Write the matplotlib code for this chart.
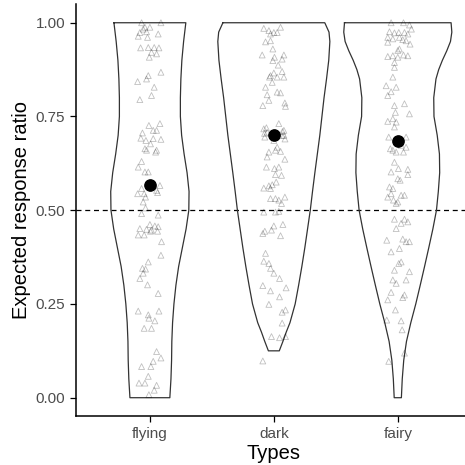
import matplotlib.pyplot as plt

plt.rcParams['font.family'] = ['Liberation Sans', 'DejaVu Sans']

types = ["flying", "dark", "fairy"]
means = [0.568, 0.701, 0.685]

# jittered observations: ratio value and horizontal jitter (category units)
flying_y = [1.0, 1.0, 0.988, 0.988, 0.974, 0.976, 0.970, 0.964, 0.961, 0.983,
            0.933, 0.934, 0.934, 0.933, 0.921, 0.917, 0.908, 0.868, 0.859, 0.850,
            0.843, 0.828, 0.806, 0.795, 0.726, 0.731, 0.713, 0.713, 0.706, 0.692,
            0.686, 0.691, 0.689, 0.677, 0.664, 0.660, 0.660, 0.655, 0.630, 0.615,
            0.602, 0.602, 0.566, 0.558, 0.553, 0.547, 0.544, 0.544, 0.535, 0.522,
            0.506, 0.491, 0.487, 0.462, 0.458, 0.456, 0.451, 0.449, 0.447, 0.434,
            0.434, 0.444, 0.444, 0.416, 0.380, 0.362, 0.345, 0.343, 0.332, 0.318,
            0.301, 0.278, 0.231, 0.231, 0.221, 0.212, 0.205, 0.185, 0.185, 0.123,
            0.106, 0.097, 0.083, 0.083, 0.057, 0.039, 0.039, 0.033, 0.008, 0.020]
flying_jit = [-0.067, 0.089, -0.040, 0.000, -0.081, -0.027, 0.067, -0.094, -0.019, -0.054,
              -0.075, -0.013, 0.035, 0.073, 0.013, 0.054, -0.005, 0.089, -0.013, -0.027,
              -0.099, 0.035, 0.013, -0.081, -0.008, 0.081, 0.027, 0.054, -0.060, -0.073,
              -0.032, 0.027, 0.089, 0.005, -0.040, -0.027, 0.054, 0.046, -0.067, -0.094,
              -0.040, -0.013, 0.081, -0.067, 0.054, 0.062, -0.046, -0.099, -0.035, -0.054,
              -0.035, -0.067, 0.067, 0.000, 0.040, 0.067, -0.081, -0.027, 0.013, -0.094,
              -0.046, 0.005, 0.062, 0.094, 0.089, -0.013, -0.060, -0.035, -0.054, -0.081,
              -0.019, 0.067, -0.094, 0.073, -0.013, -0.008, 0.040, -0.046, 0.013, 0.054,
              0.089, 0.027, -0.067, 0.008, -0.013, -0.088, -0.040, 0.054, -0.008, 0.035]

dark_y = [0.985, 0.979, 0.974, 0.988, 0.970, 0.974, 0.949, 0.952, 0.914, 0.930,
          0.914, 0.908, 0.899, 0.903, 0.887, 0.866, 0.859, 0.870, 0.855, 0.855,
          0.855, 0.828, 0.841, 0.815, 0.813, 0.808, 0.793, 0.779, 0.786, 0.777,
          0.731, 0.717, 0.708, 0.713, 0.699, 0.695, 0.686, 0.668, 0.660, 0.655,
          0.657, 0.636, 0.642, 0.615, 0.611, 0.615, 0.595, 0.593, 0.559, 0.565,
          0.568, 0.575, 0.558, 0.535, 0.531, 0.531, 0.527, 0.518, 0.495, 0.495,
          0.497, 0.458, 0.462, 0.444, 0.447, 0.438, 0.432, 0.385, 0.364, 0.358,
          0.345, 0.332, 0.318, 0.299, 0.285, 0.293, 0.269, 0.249, 0.234, 0.228,
          0.199, 0.163, 0.163, 0.160, 0.098, 0.705, 0.700, 0.710, 0.690, 0.720]
dark_jit = [-0.081, -0.040, 0.000, 0.054, -0.027, 0.027, -0.067, -0.027, -0.094, -0.008,
            0.081, 0.005, -0.008, 0.067, 0.035, 0.000, -0.027, 0.067, -0.035, 0.027,
            0.081, -0.067, -0.013, 0.027, 0.054, -0.054, -0.040, -0.089, 0.089, 0.094,
            0.040, -0.081, -0.054, 0.081, 0.067, -0.073, 0.000, 0.027, 0.013, -0.040,
            0.054, 0.089, -0.054, -0.060, 0.005, 0.040, 0.013, 0.062, -0.081, -0.040,
            -0.013, 0.019, -0.027, 0.089, -0.027, 0.013, 0.040, 0.062, -0.081, 0.013,
            0.040, 0.000, 0.073, -0.073, -0.019, -0.089, 0.054, -0.067, -0.081, -0.040,
            -0.027, 0.000, 0.046, -0.089, -0.027, 0.099, 0.046, -0.040, 0.094, 0.067,
            0.067, -0.019, 0.094, 0.046, -0.089, -0.075, 0.081, 0.070, 0.090, -0.060]

fairy_y = [1.0, 1.0, 0.994, 0.983, 0.976, 0.973, 0.974, 0.974, 0.970, 0.961,
           0.957, 0.961, 0.955, 0.952, 0.948, 0.943, 0.930, 0.926, 0.910, 0.912,
           0.908, 0.914, 0.912, 0.894, 0.881, 0.855, 0.832, 0.828, 0.816, 0.806,
           0.779, 0.784, 0.757, 0.761, 0.744, 0.737, 0.735, 0.722, 0.695, 0.695,
           0.664, 0.660, 0.673, 0.668, 0.655, 0.655, 0.628, 0.611, 0.609, 0.602,
           0.584, 0.580, 0.595, 0.562, 0.558, 0.540, 0.544, 0.540, 0.535, 0.518,
           0.527, 0.522, 0.476, 0.476, 0.465, 0.469, 0.451, 0.420, 0.423, 0.416,
           0.416, 0.398, 0.389, 0.362, 0.358, 0.340, 0.336, 0.314, 0.305, 0.314,
           0.281, 0.261, 0.267, 0.274, 0.234, 0.207, 0.205, 0.181, 0.119, 0.097]
fairy_jit = [-0.054, 0.046, 0.094, 0.110, -0.067, -0.027, 0.008, 0.054, 0.081, -0.081,
             -0.040, 0.013, 0.040, 0.067, -0.081, 0.099, 0.013, 0.000, -0.081, -0.040,
             0.000, 0.046, 0.081, -0.027, -0.027, -0.040, -0.094, -0.013, -0.054, -0.081,
             -0.027, 0.054, 0.094, -0.019, -0.040, -0.081, -0.013, -0.027, -0.073, 0.067,
             -0.060, -0.040, 0.027, 0.067, 0.046, -0.013, -0.027, 0.005, 0.081, -0.054,
             0.000, 0.019, 0.081, -0.067, -0.040, 0.054, -0.054, 0.027, -0.081, -0.013,
             -0.035, 0.000, -0.027, 0.054, 0.027, 0.081, -0.013, -0.089, 0.040, 0.067,
             0.094, 0.013, -0.054, 0.027, 0.008, -0.027, 0.094, -0.040, -0.013, 0.067,
             -0.054, -0.081, 0.040, 0.054, -0.019, -0.089, 0.027, 0.035, 0.054, -0.073]

# violin outline: half width (category units) at ratio levels
flying_lv = [1.00, 0.95, 0.90, 0.85, 0.80, 0.75, 0.70, 0.65, 0.60, 0.55, 0.50,
             0.45, 0.40, 0.35, 0.30, 0.25, 0.20, 0.15, 0.10, 0.05, 0.00]
flying_hw = [0.290, 0.272, 0.258, 0.250, 0.246, 0.246, 0.256, 0.276, 0.300, 0.316, 0.314,
             0.292, 0.262, 0.232, 0.210, 0.194, 0.183, 0.177, 0.175, 0.170, 0.161]

dark_lv = [1.00, 0.975, 0.95, 0.90, 0.85, 0.80, 0.75, 0.70, 0.65, 0.60, 0.55,
           0.50, 0.45, 0.40, 0.35, 0.30, 0.25, 0.20, 0.175, 0.15, 0.125]
dark_hw = [0.411, 0.445, 0.452, 0.443, 0.425, 0.405, 0.388, 0.371, 0.351, 0.331, 0.312,
           0.294, 0.272, 0.250, 0.226, 0.200, 0.172, 0.130, 0.100, 0.073, 0.044]

fairy_lv = [1.00, 0.975, 0.95, 0.925, 0.90, 0.875, 0.85, 0.80, 0.75, 0.70, 0.65, 0.60,
            0.55, 0.50, 0.45, 0.40, 0.35, 0.30, 0.25, 0.20, 0.15, 0.10, 0.05, 0.00]
fairy_hw = [0.430, 0.436, 0.425, 0.395, 0.360, 0.330, 0.308, 0.290, 0.292, 0.318, 0.336, 0.338,
            0.327, 0.312, 0.283, 0.250, 0.216, 0.181, 0.145, 0.105, 0.070, 0.048, 0.036, 0.029]

groups = [(flying_y, flying_jit, flying_lv, flying_hw),
          (dark_y, dark_jit, dark_lv, dark_hw),
          (fairy_y, fairy_jit, fairy_lv, fairy_hw)]

fig = plt.figure(figsize=(4.65, 4.65), dpi=100)
ax = fig.add_axes([0.1624, 0.1044, 0.853, 0.887])

for i, (ys, jit, lv, hw) in enumerate(groups):
    pos = i + 1
    # outline of the violin (left side down, right side back up)
    xs = [pos - w for w in hw] + [pos + w for w in hw[::-1]] + [pos - hw[0]]
    yv = list(lv) + list(lv[::-1]) + [lv[0]]
    ax.plot(xs, yv, color='#333333', lw=0.9, zorder=2)
    ax.scatter([pos + j for j in jit], ys, marker='^', s=18, facecolors='none',
               edgecolors=(0, 0, 0, 0.25), linewidths=0.6, zorder=3)
    ax.scatter([pos], [means[i]], s=66, color='black', zorder=4)

ax.axhline(0.5, color='black', ls=(0, (4, 3)), lw=0.9, zorder=1)

ax.set_xlim(0.4, 3.6)
ax.set_ylim(-0.05, 1.05)
ax.set_xticks([1, 2, 3])
ax.set_xticklabels(types)
ax.set_yticks([0, 0.25, 0.5, 0.75, 1.0])
ax.set_yticklabels(["0.00", "0.25", "0.50", "0.75", "1.00"])
ax.tick_params(labelsize=11, labelcolor='#4d4d4d', length=4, width=0.9, color='black')

ax.spines['top'].set_visible(False)
ax.spines['right'].set_visible(False)
ax.spines['left'].set_linewidth(1.1)
ax.spines['bottom'].set_linewidth(1.1)

ax.set_xlabel("Types", fontsize=14.5, labelpad=2)
ax.set_ylabel("Expected response ratio", fontsize=14.5, labelpad=3)

fig.savefig("out.png", dpi=100)
